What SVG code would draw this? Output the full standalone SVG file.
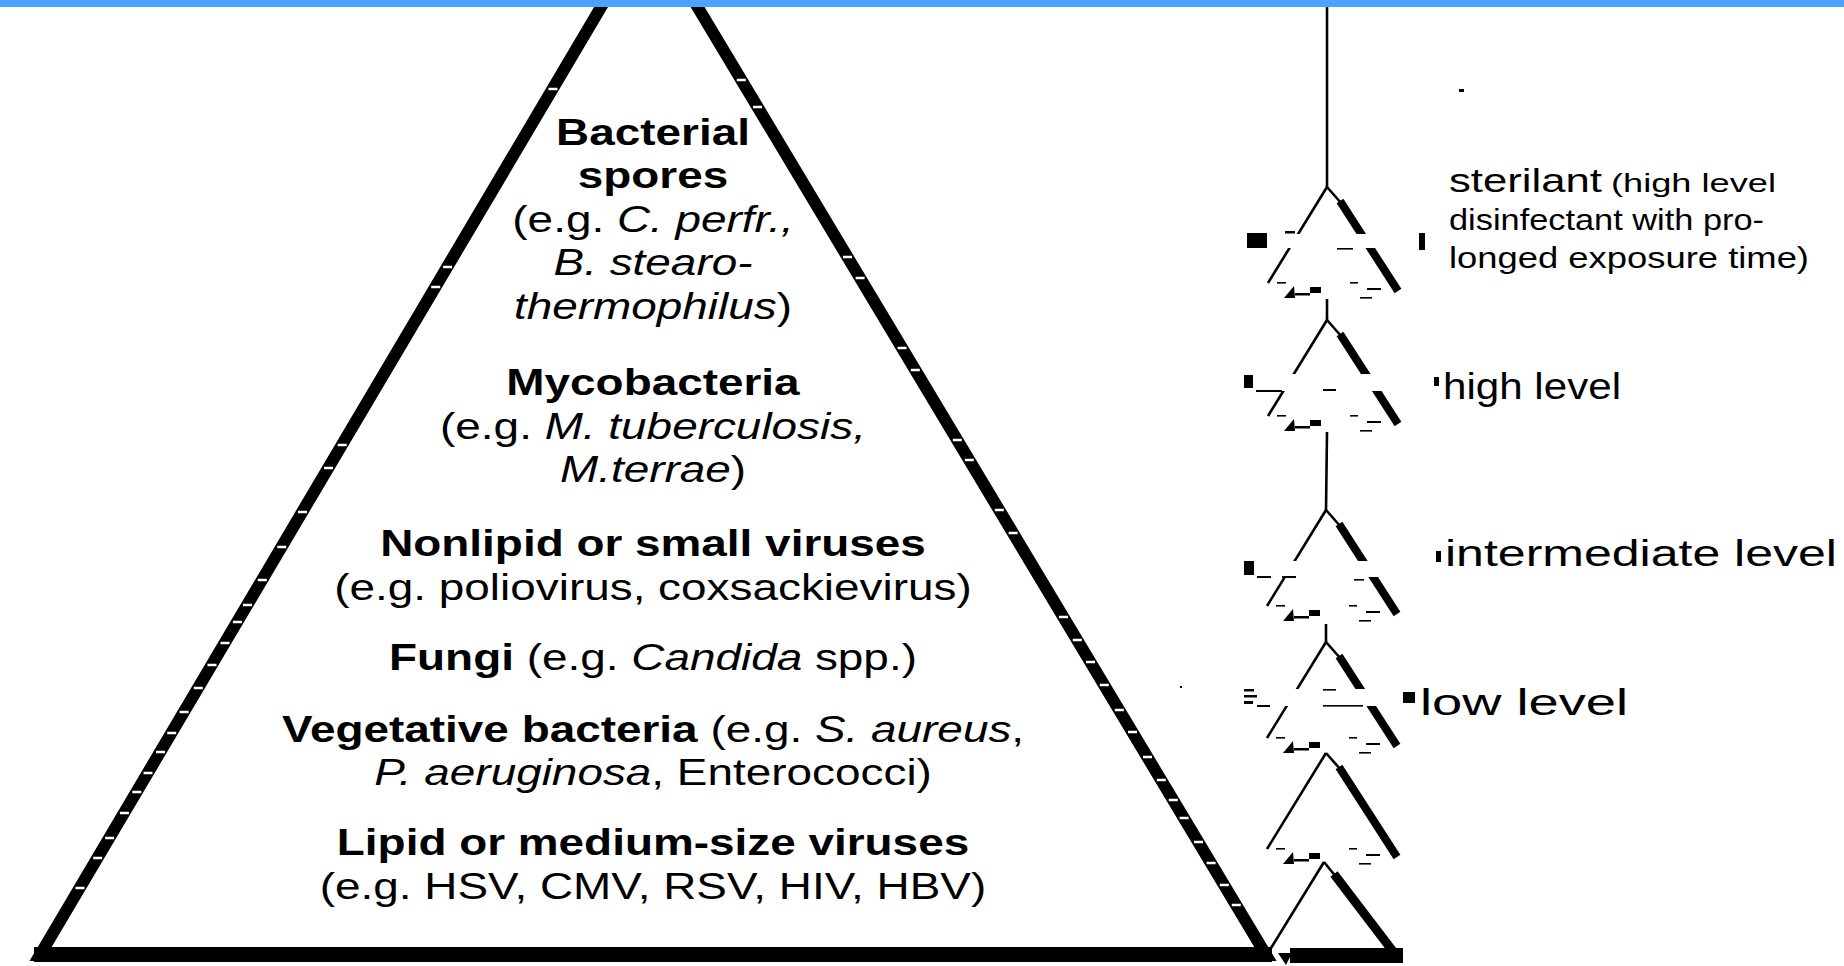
<svg xmlns="http://www.w3.org/2000/svg" xmlns:xlink="http://www.w3.org/1999/xlink" width="1844" height="966" viewBox="0 0 1844 966">
<style>
  .ink { fill: #000; }
  .thin { stroke: #000; stroke-width: 2.6; fill: none; }
  .thick { stroke: #000; stroke-width: 8; fill: none; }
  .tick { stroke: #fff; stroke-width: 2.5; fill: none; }
  .gap { fill: #fff; }
  .lbl { font-family: "Liberation Sans", Arial, Helvetica, sans-serif; font-size: 36px; fill: #000; text-anchor: middle; }
  .b { font-weight: bold; }
  .i { font-style: italic; }
  .rl { font-family: "Liberation Sans", Arial, Helvetica, sans-serif; fill: #000; }
</style>
<defs>
  <g id="tri">
    <line class="thin" x1="0" y1="0" x2="-59" y2="96"/>
    <line class="thin" x1="0" y1="0" x2="15" y2="17"/>
    <line class="thick" x1="13" y1="14" x2="71" y2="104"/>
  </g>
  <g id="triBase" class="ink">
    <polygon points="-43,111 -33,99 -32,111"/>
    <rect x="-32" y="106" width="15" height="2.5"/>
    <rect x="-17" y="100" width="11" height="6"/>
    <rect x="-50" y="95" width="9" height="1.6"/>
    <rect x="23" y="95" width="8" height="1.6"/>
    <rect x="33" y="110" width="12" height="1.6"/>
    <rect x="40" y="101" width="14" height="2"/>
  </g>
</defs>
<rect width="1844" height="966" fill="#fff"/>

<g id="pyramid">
  <polygon points="649,-74 40,955 1266,955" fill="none" stroke="#000" stroke-width="12" stroke-linejoin="miter" stroke-miterlimit="10"/>
  <line x1="34" y1="954.5" x2="1272" y2="954.5" stroke="#000" stroke-width="15"/>
  <path class="tick" d="M548.5 89h9M443.1 267h9M431.2 287h9M337.7 445h9M324.1 468h9M298 512h9M277.3 547h9M257.8 580h9M243 605h9M232.9 622h9M220.5 643h9M207.5 665h9M193.8 688h9M179.6 712h9M167.2 733h9M156 752h9M143.5 773h9M132.3 792h9M119.9 813h9M105.1 838h9M93.2 858h9M75.5 888h9"/>
  <path class="tick" d="M736.8 80h9M753 107h9M843 257h9M855.6 278h9M897.6 348h9M910.8 370h9M952.8 440h9M964.8 460h9M994.8 510h9M1008.6 533h9M1059 617h9M1072.8 640h9M1086 662h9M1099.8 685h9M1114.8 710h9M1128 732h9M1143 757h9M1156.8 780h9M1168.8 800h9M1179.6 818h9M1194 842h9M1206.6 863h9M1219.8 885h9M1231.8 905h9"/>
</g>

<g id="pyramid-labels" transform="translate(653,0) scale(1.275,1)">
  <text class="lbl b" x="0" y="145">Bacterial</text>
  <text class="lbl b" x="0" y="188">spores</text>
  <text class="lbl" x="0" y="232">(e.g. <tspan class="i">C. perfr.,</tspan></text>
  <text class="lbl i" x="0" y="275">B. stearo-</text>
  <text class="lbl" x="0" y="319"><tspan class="i">thermophilus</tspan>)</text>
  <text class="lbl b" x="0" y="395">Mycobacteria</text>
  <text class="lbl" x="0" y="439">(e.g. <tspan class="i">M. tuberculosis,</tspan></text>
  <text class="lbl" x="0" y="482"><tspan class="i">M.terrae</tspan>)</text>
  <text class="lbl b" x="0" y="556">Nonlipid or small viruses</text>
  <text class="lbl" x="0" y="600">(e.g. poliovirus, coxsackievirus)</text>
  <text class="lbl" x="0" y="670"><tspan class="b">Fungi</tspan> (e.g. <tspan class="i">Candida</tspan> spp.)</text>
  <text class="lbl" x="0" y="742"><tspan class="b">Vegetative bacteria</tspan> (e.g. <tspan class="i">S. aureus</tspan>,</text>
  <text class="lbl" x="0" y="785"><tspan class="i">P. aeruginosa</tspan>, Enterococci)</text>
  <text class="lbl b" x="0" y="855">Lipid or medium-size viruses</text>
  <text class="lbl" x="0" y="899">(e.g. HSV, CMV, RSV, HIV, HBV)</text>
</g>

<g id="connectors">
  <line class="thin" x1="1327" y1="7" x2="1327" y2="187"/>
  <line class="thin" x1="1327" y1="299" x2="1327" y2="320"/>
  <line class="thin" x1="1327" y1="432" x2="1326" y2="510"/>
  <line class="thin" x1="1326" y1="624" x2="1326" y2="642"/>
</g>

<g id="level-sterilant">
  <use xlink:href="#tri" transform="translate(1327,187)"/>
  <rect class="gap" x="1258" y="234" width="152" height="14"/>
  <use xlink:href="#triBase" transform="translate(1327,187)"/>
  <rect class="ink" x="1247" y="233" width="20" height="15"/>
  <rect class="ink" x="1285" y="231" width="10" height="2.5"/>
  <rect class="ink" x="1337" y="248" width="16" height="1.6"/>
  <rect class="ink" x="1419" y="233" width="6" height="17"/>
  <rect class="ink" x="1459" y="89" width="5" height="3"/>
</g>

<g id="level-high">
  <use xlink:href="#tri" transform="translate(1327,320)"/>
  <rect class="gap" x="1258" y="374" width="152" height="17"/>
  <use xlink:href="#triBase" transform="translate(1327,320)"/>
  <rect class="ink" x="1244" y="375" width="9" height="13"/>
  <rect class="ink" x="1256" y="390" width="26" height="2"/>
  <rect class="ink" x="1323" y="389" width="13" height="2"/>
  <rect class="ink" x="1434" y="377" width="5" height="9"/>
</g>

<g id="level-intermediate">
  <use xlink:href="#tri" transform="translate(1326,510)"/>
  <rect class="gap" x="1258" y="561" width="152" height="16"/>
  <use xlink:href="#triBase" transform="translate(1326,510)"/>
  <rect class="ink" x="1244" y="561" width="10" height="14"/>
  <rect class="ink" x="1257" y="576" width="14" height="2"/>
  <rect class="ink" x="1282" y="576" width="14" height="2"/>
  <rect class="ink" x="1354" y="579" width="10" height="1.6"/>
  <rect class="ink" x="1436" y="551" width="5" height="11"/>
  <rect class="ink" x="1180" y="686" width="2" height="2"/>
</g>

<g id="level-low">
  <use xlink:href="#tri" transform="translate(1326,642)"/>
  <rect class="gap" x="1258" y="689" width="152" height="17"/>
  <use xlink:href="#triBase" transform="translate(1326,642)"/>
  <rect class="ink" x="1244" y="689" width="10" height="2.5"/>
  <rect class="ink" x="1244" y="695" width="13" height="2.5"/>
  <rect class="ink" x="1244" y="701" width="9" height="3"/>
  <rect class="ink" x="1257" y="705" width="13" height="2"/>
  <rect class="ink" x="1323" y="689" width="13" height="1.6"/>
  <rect class="ink" x="1323" y="705" width="40" height="1.6"/>
  <rect class="ink" x="1403" y="692" width="12" height="11"/>
</g>

<g id="level-5">
  <use xlink:href="#tri" transform="translate(1326,753)"/>
  <use xlink:href="#triBase" transform="translate(1326,753)"/>
</g>

<g id="level-6">
  <line class="thin" x1="1324" y1="862" x2="1271" y2="948"/>
  <line class="thin" x1="1324" y1="862" x2="1337" y2="878"/>
  <line stroke="#000" stroke-width="9" x1="1334" y1="874" x2="1398" y2="958"/>
  <rect class="ink" x="1290" y="948" width="113" height="15"/>
  <polygon class="ink" points="1278,953 1292,953 1286,965"/>
</g>

<g id="level-labels">
  <text class="rl" x="1449" y="192" font-size="34" textLength="153" lengthAdjust="spacingAndGlyphs">sterilant</text>
  <text class="rl" x="1611" y="192" font-size="26" textLength="165" lengthAdjust="spacingAndGlyphs">(high level</text>
  <text class="rl" x="1449" y="230" font-size="30" textLength="315" lengthAdjust="spacingAndGlyphs">disinfectant with pro-</text>
  <text class="rl" x="1449" y="268" font-size="30" textLength="360" lengthAdjust="spacingAndGlyphs">longed exposure time)</text>
  <text class="rl" x="1443" y="399" font-size="36" textLength="178" lengthAdjust="spacingAndGlyphs">high level</text>
  <text class="rl" x="1445" y="566" font-size="36" textLength="392" lengthAdjust="spacingAndGlyphs">intermediate level</text>
  <text class="rl" x="1420" y="715" font-size="36" textLength="208" lengthAdjust="spacingAndGlyphs">low level</text>
</g>

<g id="top-bar">
  <rect x="0" y="0" width="1844" height="7" fill="#4aa3fe"/>
</g>
</svg>
